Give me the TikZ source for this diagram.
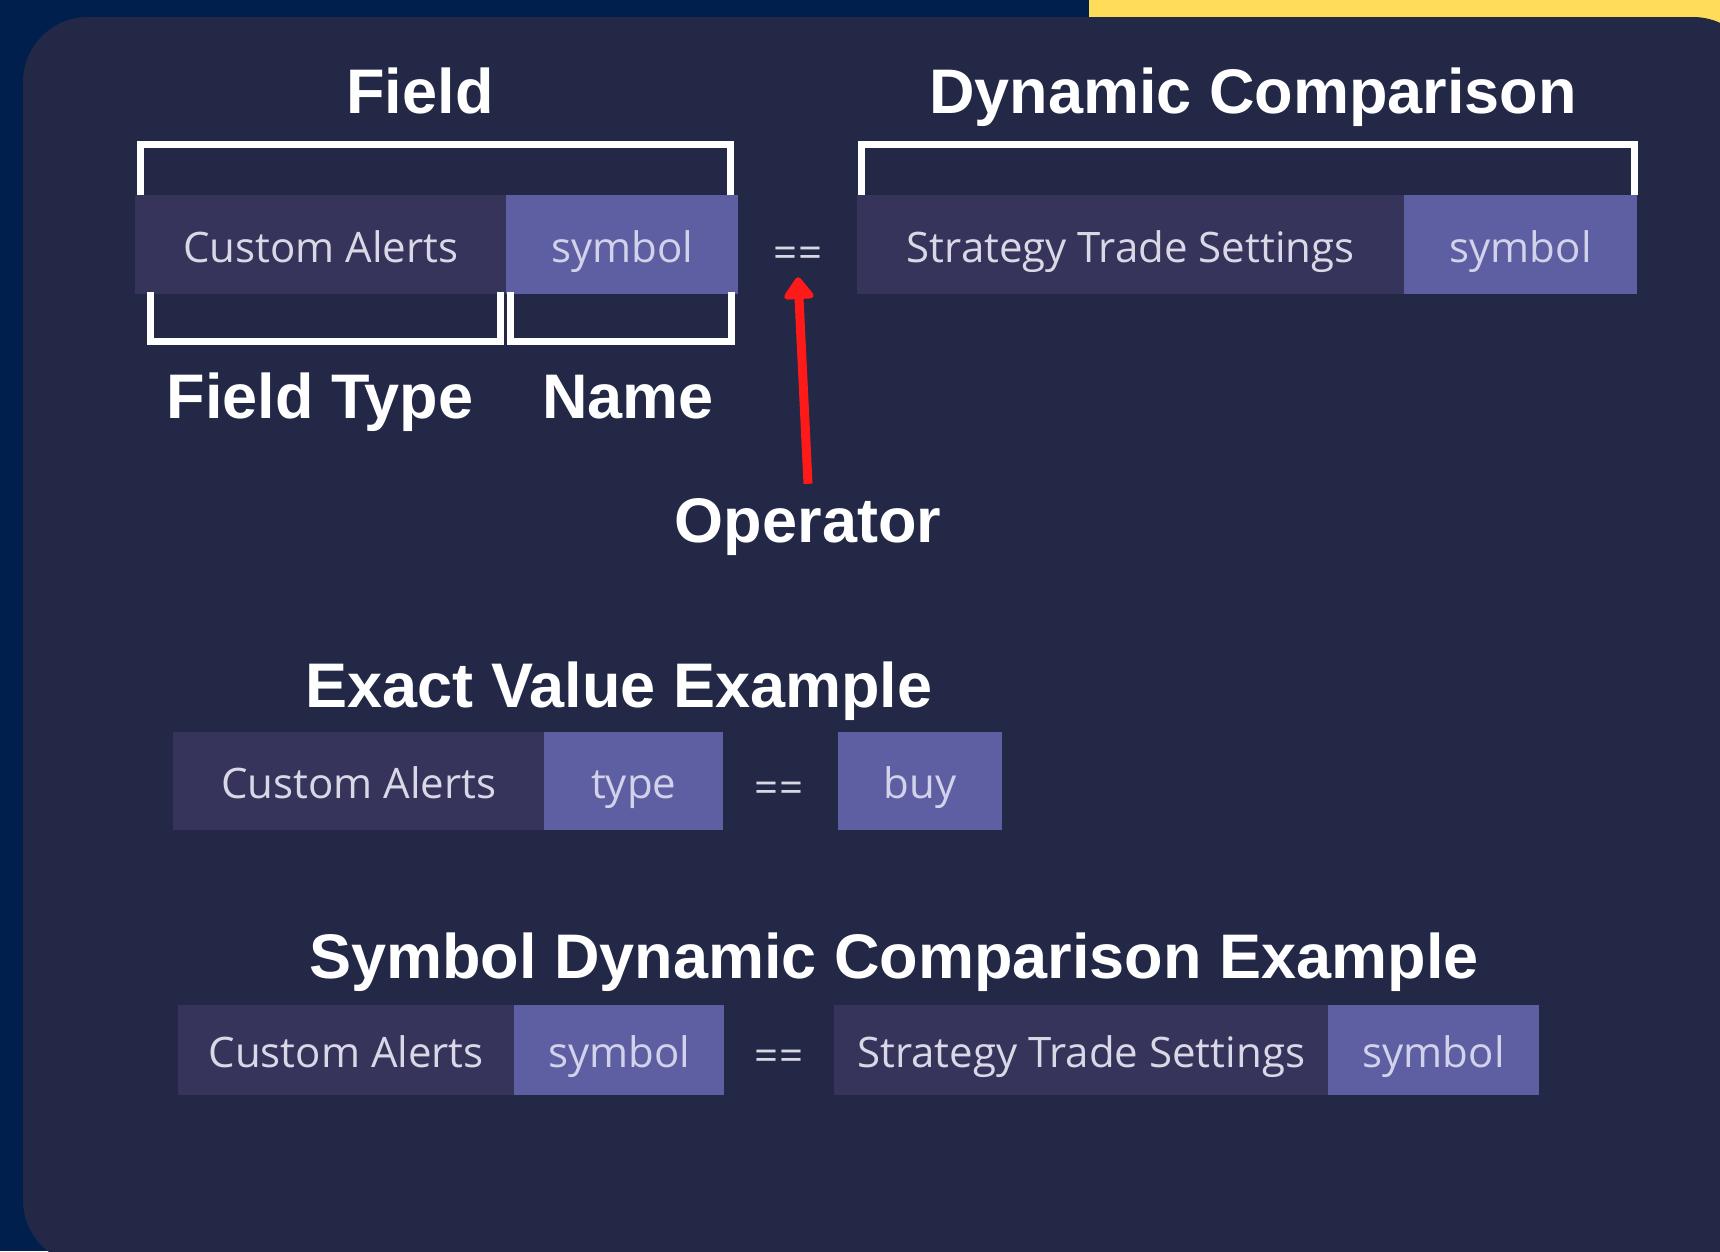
\documentclass[tikz,border=0pt]{standalone}
\usepackage{fontspec}
\setmainfont{Liberation Sans}
\newfontfamily\boxfont{Open Sans}
\usetikzlibrary{arrows.meta}
\definecolor{outerbg}{HTML}{001F4C}
\definecolor{panelc}{HTML}{222845}
\definecolor{yellowc}{HTML}{FFDC5A}
\definecolor{boxdark}{HTML}{37345C}
\definecolor{boxlight}{HTML}{5E5EA3}
\definecolor{txtdark}{HTML}{D8D8E6}
\definecolor{txtlight}{HTML}{D2D2EA}
\definecolor{eqc}{HTML}{D8D8E2}
\definecolor{redc}{HTML}{FF1A1A}
\begin{document}
\begin{tikzpicture}[x=1pt,y=-1pt,
  heading/.style={font=\fontsize{63}{70}\selectfont\bfseries, text=white, anchor=base, inner sep=0pt},
  boxbase/.style={anchor=north west, inner sep=0pt, font=\boxfont\fontsize{42}{48}\selectfont, text height=35pt, text depth=0pt},
  dbox/.style={boxbase, fill=boxdark, text=txtdark},
  lbox/.style={boxbase, fill=boxlight, text=txtlight},
  eqsign/.style={anchor=base, inner sep=0pt, text=eqc, font=\boxfont\fontsize{42}{48}\selectfont},
  bracket/.style={draw=white, line width=7pt},
  arrowline/.style={draw=redc, line width=9pt, -{Triangle[width=34pt,length=24pt,round]}}
]
\useasboundingbox (0,0) rectangle (1720,1251);
\clip (0,0) rectangle (1720,1251);
\fill[outerbg] (0,0) rectangle (1720,1251);
\fill[yellowc] (1089,0) rectangle (1720,40);
\fill[panelc, rounded corners=65pt] (23,17) rectangle (1758,1265);

% headings
\node[heading] (hfield) at (420,113) {Field};
\node[heading] (hdyn) at (1253,113) {Dynamic Comparison};
\node[heading] (hftype) at (320,418) {Field Type};
\node[heading] (hname) at (628,418) {Name};
\node[heading] (op) at (808,542) {Operator};
\node[heading] (heve) at (619,707) {Exact Value Example};
\node[heading] (hsdce) at (894,978) {Symbol Dynamic Comparison Example};

% row 1
\node[dbox, minimum width=371pt, minimum height=99pt] (ca1) at (135,195) {Custom Alerts};
\node[lbox, minimum width=232pt, minimum height=99pt] (sy1) at (506,195) {symbol};
\node[eqsign] (eq1) at (798,267) {==};
\node[dbox, minimum width=547pt, minimum height=99pt] (sts1) at (857,195) {Strategy Trade Settings};
\node[lbox, minimum width=233pt, minimum height=99pt] (sy1b) at (1404,195) {symbol};

% brackets
\draw[bracket] (140,195) -- (140,144.5) -- (730,144.5) -- (730,195);
\draw[bracket] (150,292) -- (150,341) -- (500,341) -- (500,292);
\draw[bracket] (510,292) -- (510,341) -- (731,341) -- (731,292);
\draw[bracket] (861,195) -- (861,144.5) -- (1634,144.5) -- (1634,195);

% arrow
\draw[arrowline] ([yshift=14pt]op.north) -- ([yshift=-10pt]eq1.south);

% row 2
\node[dbox, minimum width=371pt, minimum height=98pt] (ca2) at (173,732) {Custom Alerts};
\node[lbox, minimum width=179pt, minimum height=98pt] (ty2) at (544,732) {type};
\node[eqsign] (eq2) at (779,802) {==};
\node[lbox, minimum width=164pt, minimum height=98pt] (buy2) at (838,732) {buy};

% row 3
\node[dbox, minimum width=336pt, minimum height=90pt] (ca3) at (178,1005) {Custom Alerts};
\node[lbox, minimum width=210pt, minimum height=90pt] (sy3) at (514,1005) {symbol};
\node[eqsign] (eq3) at (779,1070) {==};
\node[dbox, minimum width=494pt, minimum height=90pt] (sts3) at (834,1005) {Strategy Trade Settings};
\node[lbox, minimum width=211pt, minimum height=90pt] (sy3b) at (1328,1005) {symbol};
\end{tikzpicture}
\end{document}
